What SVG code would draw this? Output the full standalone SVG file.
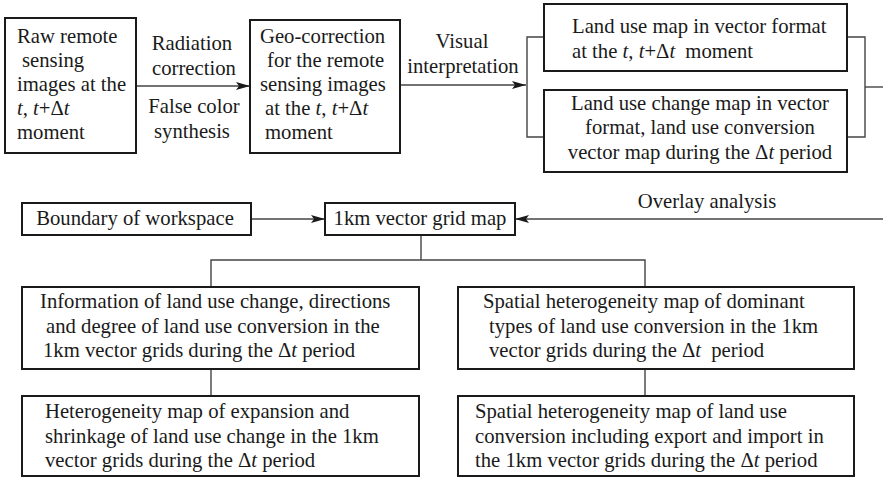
<svg xmlns="http://www.w3.org/2000/svg" width="883" height="478" viewBox="0 0 883 478">
  <style>
    .box { fill: #fff; stroke: #1a1a1a; stroke-width: 2; }
    .wire { fill: none; stroke: #444; stroke-width: 1.4; }
    text { font-family: "Liberation Serif", "Times New Roman", serif; font-size: 20.7px; fill: #1a1a1a; }
    .c { text-anchor: middle; }
    .i { font-style: italic; }
  </style>
  <defs>
    <marker id="arrow" viewBox="0 0 14 8" refX="14" refY="4" markerWidth="14" markerHeight="8" markerUnits="userSpaceOnUse" orient="auto">
      <path d="M0,0 L14,4 L0,8 L3,4 Z" fill="#1a1a1a"/>
    </marker>
  </defs>

  <!-- connectors -->
  <g id="connectors">
    <line class="wire" x1="136" y1="86" x2="250" y2="86" marker-end="url(#arrow)"/>
    <line class="wire" x1="400" y1="85" x2="526" y2="85" marker-end="url(#arrow)"/>
    <polyline class="wire" points="544,37 527,37 527,137 544,137"/>
    <polyline class="wire" points="847,37 865,37 865,137 847,137"/>
    <line class="wire" x1="865" y1="87" x2="883" y2="87"/>
    <line class="wire" x1="251" y1="219" x2="325" y2="219" marker-end="url(#arrow)"/>
    <line class="wire" x1="883" y1="219" x2="515" y2="219" marker-end="url(#arrow)"/>
    <line class="wire" x1="421" y1="235" x2="421" y2="260"/>
    <polyline class="wire" points="211,287 211,260 645,260 645,287"/>
    <line class="wire" x1="211" y1="369" x2="211" y2="396"/>
    <line class="wire" x1="645" y1="369" x2="645" y2="396"/>
    <text class="c" x="192" y="50">Radiation</text>
    <text class="c" x="194" y="75">correction</text>
    <text class="c" x="194" y="113">False color</text>
    <text class="c" x="192" y="138">synthesis</text>
    <text class="c" x="462" y="48">Visual</text>
    <text class="c" x="463" y="73">interpretation</text>
    <text class="c" x="707" y="208">Overlay analysis</text>
  </g>

  <g id="raw-images">
    <rect class="box" x="5" y="18" width="131" height="135"/>
    <text x="17" y="43">Raw remote</text>
    <text x="22" y="67">sensing</text>
    <text x="17" y="91">images at the</text>
    <text x="17" y="115"><tspan class="i">t</tspan>, <tspan class="i">t</tspan>+Δ<tspan class="i">t</tspan></text>
    <text x="17" y="139">moment</text>
  </g>

  <g id="geo-correction">
    <rect class="box" x="250" y="20" width="150" height="133"/>
    <text x="260" y="43">Geo-correction</text>
    <text x="267" y="67">for the remote</text>
    <text x="260" y="91">sensing images</text>
    <text x="265" y="115">at the <tspan class="i">t</tspan>, <tspan class="i">t</tspan>+Δ<tspan class="i">t</tspan></text>
    <text x="265" y="139">moment</text>
  </g>

  <g id="landuse-map">
    <rect class="box" x="544" y="4" width="303" height="67"/>
    <text x="572" y="33">Land use map in vector format</text>
    <text x="572" y="58">at the <tspan class="i">t</tspan>, <tspan class="i">t</tspan>+Δ<tspan class="i">t</tspan><tspan dx="5"> moment</tspan></text>
  </g>

  <g id="landuse-change-map">
    <rect class="box" x="544" y="90" width="303" height="82"/>
    <text class="c" x="700" y="110">Land use change map in vector</text>
    <text class="c" x="700" y="134">format, land use conversion</text>
    <text class="c" x="700" y="159">vector map during the Δ<tspan class="i">t</tspan> period</text>
  </g>

  <g id="workspace-boundary">
    <rect class="box" x="22" y="203" width="229" height="32"/>
    <text class="c" x="135" y="225">Boundary of workspace</text>
  </g>

  <g id="grid-map">
    <rect class="box" x="325" y="203" width="190" height="32"/>
    <text class="c" x="420" y="225">1km vector grid map</text>
  </g>

  <g id="change-information">
    <rect class="box" x="22" y="287" width="397" height="82"/>
    <text x="40" y="308">Information of land use change, directions</text>
    <text x="46" y="333">and degree of land use conversion in the</text>
    <text x="43" y="357">1km vector grids during the Δ<tspan class="i">t</tspan> period</text>
  </g>

  <g id="expansion-shrinkage">
    <rect class="box" x="22" y="396" width="397" height="80"/>
    <text x="45" y="418">Heterogeneity map of expansion and</text>
    <text x="45" y="443">shrinkage of land use change in the 1km</text>
    <text x="45" y="467">vector grids during the Δ<tspan class="i">t</tspan> period</text>
  </g>

  <g id="dominant-types">
    <rect class="box" x="458" y="287" width="396" height="82"/>
    <text x="483" y="308">Spatial heterogeneity map of dominant</text>
    <text x="489" y="333">types of land use conversion in the 1km</text>
    <text x="489" y="357">vector grids during the Δ<tspan class="i">t</tspan><tspan dx="5"> period</tspan></text>
  </g>

  <g id="export-import">
    <rect class="box" x="458" y="396" width="396" height="80"/>
    <text x="475" y="418">Spatial heterogeneity map of land use</text>
    <text x="475" y="443">conversion including export and import in</text>
    <text x="475" y="467">the 1km vector grids during the Δ<tspan class="i">t</tspan> period</text>
  </g>
</svg>
